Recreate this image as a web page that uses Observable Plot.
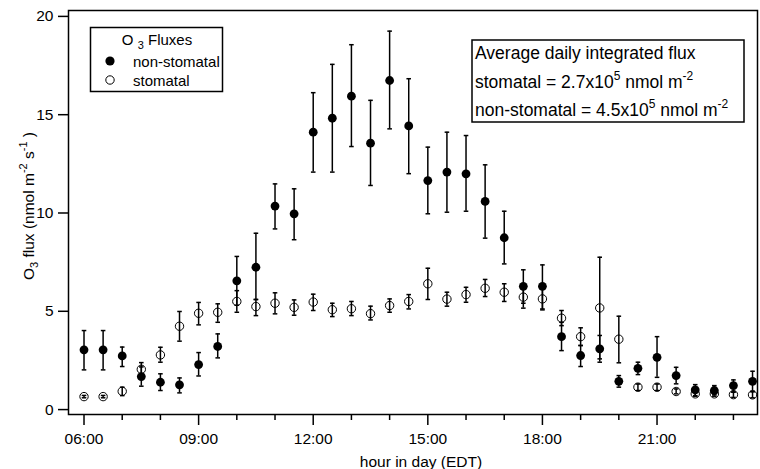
<!DOCTYPE html>
<html><head><meta charset="utf-8">
<script src="https://cdn.jsdelivr.net/npm/d3@7"></script>
<script src="https://cdn.jsdelivr.net/npm/@observablehq/plot@0.6"></script>
<style>body{margin:0;background:#fff}</style>
</head><body><div id="chart"></div>
<script>
// half-hour bins (hour in day, EDT)
const hours = [6,6.5,7,7.5,8,8.5,9,9.5,10,10.5,11,11.5,12,12.5,13,13.5,14,14.5,15,15.5,16,16.5,17,17.5,18,18.5,19,19.5,20,20.5,21,21.5,22,22.5,23,23.5];
const nonStomatal     = [3.04,3.04,2.73,1.68,1.39,1.26,2.29,3.21,6.55,7.24,10.35,9.96,14.11,14.82,15.94,13.55,16.74,14.43,11.65,12.08,11.99,10.59,8.74,6.27,6.27,3.71,2.75,3.09,1.44,2.10,2.66,1.73,1.00,0.97,1.22,1.44];
const nonStomatalLow  = [2.02,2.02,2.19,1.19,0.97,0.85,1.71,2.63,5.31,5.60,9.19,8.64,12.08,12.08,13.38,11.40,14.28,12.00,9.96,10.04,10.09,8.72,7.41,5.41,5.12,3.00,2.19,2.41,1.14,1.78,1.64,1.31,0.71,0.75,0.88,0.93];
const nonStomatalHigh = [4.02,4.02,3.18,2.17,1.82,1.61,2.90,3.85,7.79,8.97,11.48,11.23,16.12,17.56,18.56,15.73,19.25,16.83,13.35,14.11,13.94,12.45,10.09,7.11,7.36,4.44,3.26,3.77,1.73,2.41,3.71,2.15,1.27,1.22,1.51,1.95];
const stomatal        = [0.66,0.66,0.93,2.05,2.78,4.24,4.90,4.95,5.50,5.24,5.41,5.20,5.47,5.08,5.13,4.88,5.29,5.50,6.40,5.62,5.85,6.17,5.97,5.72,5.63,4.65,3.71,5.17,3.58,1.14,1.14,0.92,0.80,0.80,0.76,0.75];
const stomatalLow     = [0.60,0.60,0.71,1.75,2.41,3.48,4.31,4.44,4.95,4.78,4.87,4.80,5.04,4.73,4.78,4.56,4.95,5.12,5.60,5.26,5.46,5.75,5.50,5.16,5.07,4.27,3.26,2.58,2.38,0.97,0.97,0.80,0.68,0.68,0.62,0.60];
const stomatalHigh    = [0.72,0.72,1.14,2.39,3.17,4.99,5.45,5.38,6.05,5.60,5.94,5.58,5.87,5.41,5.50,5.26,5.63,5.85,7.19,5.97,6.22,6.62,6.40,6.28,6.20,5.04,4.16,7.75,4.75,1.30,1.30,1.05,0.92,0.92,0.90,0.90];

const yTicks = [0,5,10,15,20];
const majorHours = [6,9,12,15,18,21];
const xTickLabels = ["06:00","09:00","12:00","15:00","18:00","21:00"];
const minorHours = [7,8,10,11,13,14,16,17,19,20,22,23];

const ns = hours.map((h,i)=>({hour:h, v:nonStomatal[i], lo:nonStomatalLow[i], hi:nonStomatalHigh[i]}));
const st = hours.map((h,i)=>({hour:h, v:stomatal[i], lo:stomatalLow[i], hi:stomatalHigh[i]}));
const all = ns.concat(st);
const cap = 0.06;
const font = "'Liberation Sans', Arial, Helvetica, sans-serif";

const plot = Plot.plot({
  width: 760, height: 469,
  marginLeft: 68, marginRight: 3, marginTop: 10, marginBottom: 55,
  style: {fontFamily: font, fontSize: "15.5px", color: "black", background: "white"},
  x: {domain: [5.594, 23.63]},
  y: {domain: [-0.25, 20.3]},
  marks: [
    Plot.axisY({ticks: yTicks, tickSize: 10, tickPadding: 5, label: null, strokeWidth: 1.5}),
    Plot.axisX({ticks: minorHours, tickSize: 6, tickFormat: () => "", label: null, strokeWidth: 1.5}),
    Plot.axisX({ticks: majorHours, tickSize: 11, tickPadding: 7, tickFormat: (d, i) => xTickLabels[i], label: null, strokeWidth: 1.5}),
    Plot.ruleX(all, {x: "hour", y1: "lo", y2: "hi", stroke: "black", strokeWidth: 1.5}),
    Plot.link(all, {x1: d => d.hour - cap, x2: d => d.hour + cap, y1: "lo", y2: "lo", stroke: "black", strokeWidth: 1.5}),
    Plot.link(all, {x1: d => d.hour - cap, x2: d => d.hour + cap, y1: "hi", y2: "hi", stroke: "black", strokeWidth: 1.5}),
    Plot.dot(st, {x: "hour", y: "v", r: 4.2, fill: "none", stroke: "black", strokeWidth: 1}),
    Plot.dot(ns, {x: "hour", y: "v", r: 4.4, fill: "black", stroke: "none"}),
    Plot.frame({stroke: "black", strokeWidth: 1.5})
  ]
});

const svg = d3.select(plot);

// y-axis label
const yl = svg.append("text")
  .attr("transform", "translate(34,206) rotate(-90)")
  .attr("text-anchor", "middle").attr("fill", "black").style("font-size", "15.5px");
yl.append("tspan").text("O");
yl.append("tspan").attr("dy", 4).style("font-size", "11px").text("3");
yl.append("tspan").attr("dy", -4).text(" flux (nmol m");
yl.append("tspan").attr("dy", -7).style("font-size", "11px").text("-2");
yl.append("tspan").attr("dy", 7).text(" s");
yl.append("tspan").attr("dy", -7).style("font-size", "11px").text("-1");
yl.append("tspan").attr("dy", 7).text(" )");

// x-axis label
svg.append("text").attr("x", 421).attr("y", 466.5).attr("text-anchor", "middle")
  .attr("fill", "black").style("font-size", "15.5px").text("hour in day (EDT)");

// legend
const lg = svg.append("g");
lg.append("rect").attr("x", 90.5).attr("y", 27.5).attr("width", 132).attr("height", 64)
  .attr("fill", "white").attr("stroke", "black").attr("stroke-width", 1.5);
const lt = lg.append("text").attr("x", 157).attr("y", 44.5).attr("text-anchor", "middle")
  .attr("fill", "black").style("font-size", "15px");
lt.append("tspan").text("O ");
lt.append("tspan").attr("dy", 4).style("font-size", "11px").text("3");
lt.append("tspan").attr("dy", -4).text(" Fluxes");
lg.append("circle").attr("cx", 110).attr("cy", 61).attr("r", 4.6).attr("fill", "black");
lg.append("circle").attr("cx", 110).attr("cy", 80).attr("r", 4.2).attr("fill", "none").attr("stroke", "black");
lg.append("text").attr("x", 133).attr("y", 66.5).attr("text-anchor", "start").attr("fill", "black").style("font-size", "15px").text("non-stomatal");
lg.append("text").attr("x", 133).attr("y", 85.5).attr("text-anchor", "start").attr("fill", "black").style("font-size", "15px").text("stomatal");

// annotation box
const ab = svg.append("g").attr("text-anchor", "start");
ab.append("rect").attr("x", 472).attr("y", 40).attr("width", 272).attr("height", 82)
  .attr("fill", "white").attr("stroke", "black").attr("stroke-width", 1.5);
const fs = "17.5px";
ab.append("text").attr("x", 475).attr("y", 59.3).attr("fill", "black").style("font-size", fs)
  .text("Average daily integrated flux");
const l2 = ab.append("text").attr("x", 475).attr("y", 87.5).attr("fill", "black").style("font-size", fs);
l2.append("tspan").text("stomatal = 2.7x10");
l2.append("tspan").attr("dy", -8).style("font-size", "12px").text("5");
l2.append("tspan").attr("dy", 8).text(" nmol m");
l2.append("tspan").attr("dy", -8).style("font-size", "12px").text("-2");
const l3 = ab.append("text").attr("x", 475).attr("y", 115.7).attr("fill", "black").style("font-size", fs);
l3.append("tspan").text("non-stomatal = 4.5x10");
l3.append("tspan").attr("dy", -8).style("font-size", "12px").text("5");
l3.append("tspan").attr("dy", 8).text(" nmol m");
l3.append("tspan").attr("dy", -8).style("font-size", "12px").text("-2");

document.getElementById("chart").appendChild(plot);
</script>
</body></html>
